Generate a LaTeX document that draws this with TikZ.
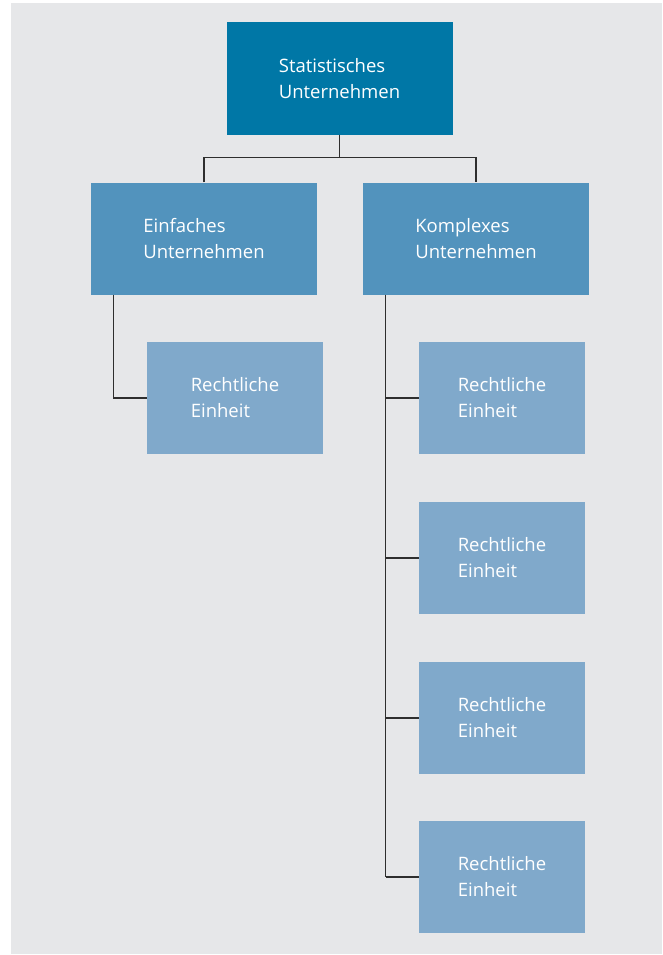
\documentclass[tikz,border=0pt]{standalone}
\usepackage{fontspec}
\setmainfont{Open Sans}
\definecolor{bg}{HTML}{E6E7E9}
\definecolor{cA}{HTML}{0077A6}
\definecolor{cB}{HTML}{5293BD}
\definecolor{cC}{HTML}{80A9CB}
\definecolor{ln}{HTML}{2E2E2E}
\tikzset{
  box/.style={fill=#1, draw=none, inner sep=0pt, text=white, align=left,
    font=\fontsize{18.5}{26}\selectfont, minimum height=112pt},
  conn/.style={draw=ln, line width=1.3pt},
  trunk/.style={draw=ln, line width=1.9pt},
}
\begin{document}
\begin{tikzpicture}[x=1pt,y=-1pt]
\useasboundingbox (0,0) rectangle (662,955);
\fill[bg] (11,3) rectangle (662,954);
\node[box=cA, minimum width=226pt] (top) at (339.5,78.5) {Statistisches\\Unternehmen};
\node[box=cB, minimum width=226pt] (einf) at (204,238.5) {Einfaches\\Unternehmen};
\node[box=cB, minimum width=226pt] (komp) at (476,238.5) {Komplexes\\Unternehmen};
\node[box=cC, minimum width=176pt] (rl0) at (235,398) {Rechtliche\\Einheit};
\node[box=cC, minimum width=166pt] (rl1) at (502,398) {Rechtliche\\Einheit};
\node[box=cC, minimum width=166pt] (rl2) at (502,558) {Rechtliche\\Einheit};
\node[box=cC, minimum width=166pt] (rl3) at (502,718) {Rechtliche\\Einheit};
\node[box=cC, minimum width=166pt] (rl4) at (502,877) {Rechtliche\\Einheit};
\coordinate (bus) at ([yshift=-23pt]top.south);
\coordinate (ltop) at ([xshift=22.5pt]einf.south west);
\coordinate (rtop) at ([xshift=22.7pt]komp.south west);
\coordinate (rbot) at (rtop |- rl4.west);
\draw[conn] (top.south) -- (bus);
\draw[conn] (einf.north) |- (bus) -| (komp.north);
\draw[conn] (ltop) |- (rl0.west);
\draw[trunk] (rtop) -- (rbot);
\draw[conn] (rl1.west) -- (rl1.west -| rtop);
\draw[conn] (rl2.west) -- (rl2.west -| rtop);
\draw[conn] (rl3.west) -- (rl3.west -| rtop);
\draw[conn] (rl4.west) -- (rbot);
\end{tikzpicture}
\end{document}
